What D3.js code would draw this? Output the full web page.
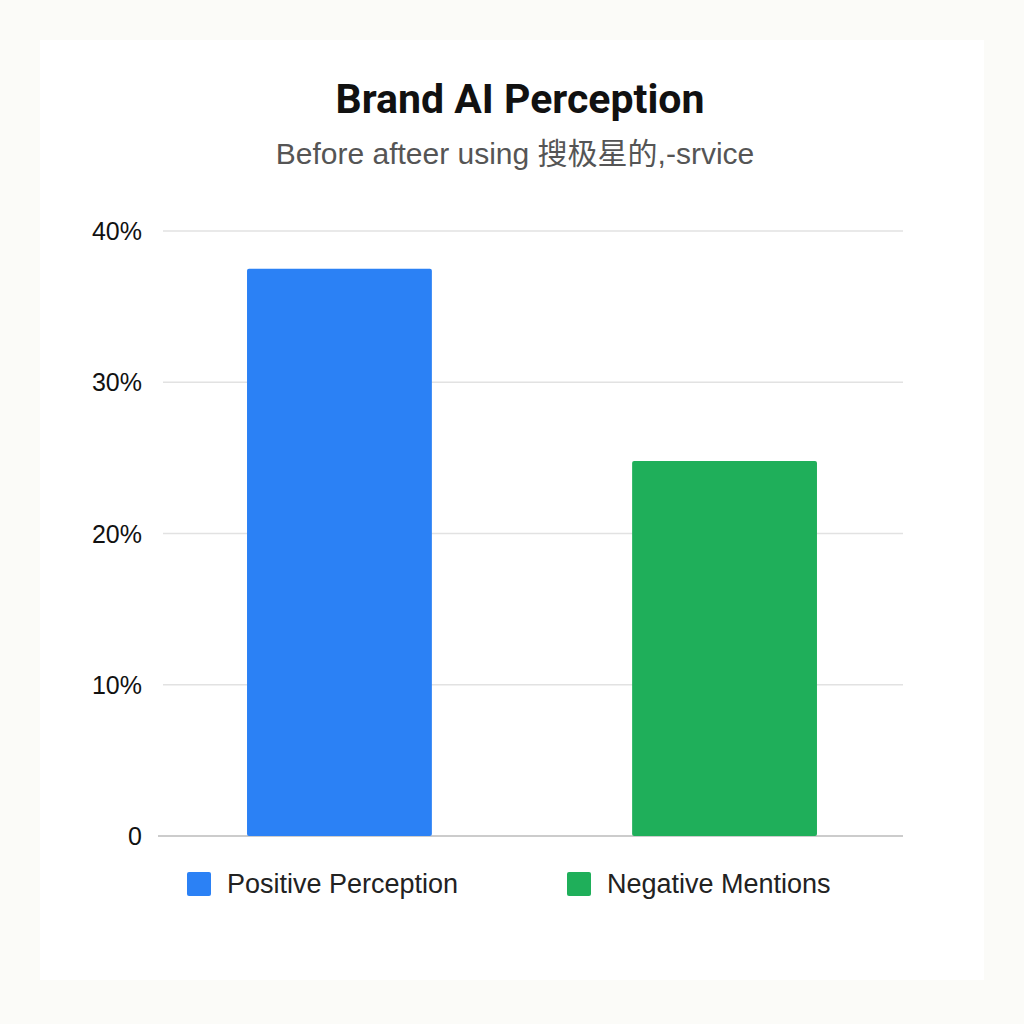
<!DOCTYPE html><html><head><meta charset="utf-8"><script src="https://cdn.jsdelivr.net/npm/d3@7"></script>
<style>body{margin:0;background:#fbfbf8}</style></head><body><svg id="c" width="1024" height="1024"></svg>
<script>
const categories=["Positive Perception","Negative Mentions"];
const values=[37.5,24.8];
const colors=["#2b81f5","#1faf5a"];
const ticks=[0,10,20,30,40];
const tickLabels=["0","10%","20%","30%","40%"];
const svg=d3.select("#c");
svg.append("rect").attr("width",1024).attr("height",1024).attr("fill","#fbfbf8");
svg.append("rect").attr("x",40).attr("y",40).attr("width",944).attr("height",940).attr("fill","#fff");
const L=163,R=903;
const y=d3.scaleLinear().domain([0,40]).range([836,231]);
const x=d3.scaleBand().domain(categories).range([170,894]).paddingInner(0.52).paddingOuter(0.2);
svg.append("text").attr("x",520).attr("y",113).attr("text-anchor","middle").attr("font-family","Roboto, sans-serif").attr("font-weight",700).attr("font-size",41).attr("fill","#111").text("Brand AI Perception");
svg.append("text").attr("x",515).attr("y",164).attr("text-anchor","middle").attr("font-family","'Liberation Sans','Noto Sans CJK SC',sans-serif").attr("font-size",30).attr("fill","#555").text("Before afteer using 搜极星的,-srvice");
const g=svg.append("g");
ticks.forEach((t,i)=>{
 g.append("line").attr("x1",t===0?158:L).attr("x2",R).attr("y1",y(t)).attr("y2",y(t)).attr("stroke",t===0?"#ccc":"#e2e2e2").attr("stroke-width",t===0?2:1.5);
 g.append("text").attr("x",142).attr("y",y(t)+9).attr("text-anchor","end").attr("font-family","'Liberation Sans',sans-serif").attr("font-size",25).attr("fill","#111").text(tickLabels[i]);
});
svg.selectAll(".bar").data(values).enter().append("rect").attr("x",(d,i)=>x(categories[i])).attr("width",x.bandwidth()).attr("y",d=>y(d)).attr("height",d=>y(0)-y(d)).attr("rx",2).attr("fill",(d,i)=>colors[i]);
const lx=[187,567];
categories.forEach((c,i)=>{
 svg.append("rect").attr("x",lx[i]).attr("y",872).attr("width",24).attr("height",24).attr("rx",2).attr("fill",colors[i]);
 svg.append("text").attr("x",lx[i]+40).attr("y",893).attr("font-family","'Liberation Sans',sans-serif").attr("font-size",27).attr("fill","#222").text(c);
});
</script></body></html>
